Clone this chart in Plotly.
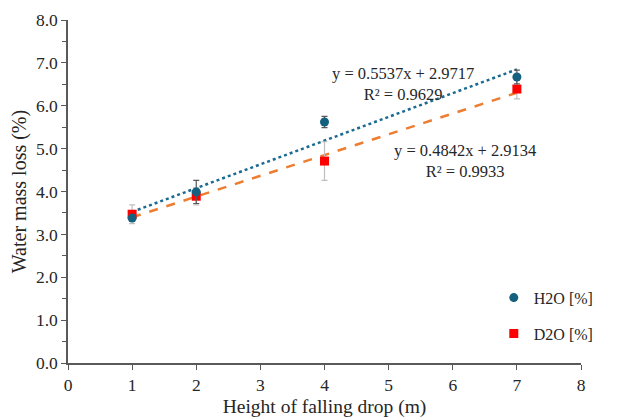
import plotly.graph_objects as go

heights = [1, 2, 4, 7]
h2o = [3.38, 3.99, 5.62, 6.67]
h2o_err = [0.08, 0.27, 0.13, 0.16]
d2o = [3.47, 3.89, 4.71, 6.39]
d2o_err = [0.22, 0.20, 0.45, 0.23]

h2o_fit = (0.5537, 2.9717, 0.9629)
d2o_fit = (0.4842, 2.9134, 0.9933)
fit_x = [1, 7]

FONT = "Liberation Serif, Times New Roman, serif"
TXT = "#262626"
AX = "#595959"

fig = go.Figure()

fig.add_trace(go.Scatter(
    x=fit_x, y=[h2o_fit[0] * v + h2o_fit[1] for v in fit_x], mode="lines",
    line=dict(color="#1a6a92", width=2.5, dash="dot"), showlegend=False, hoverinfo="skip"))
fig.add_trace(go.Scatter(
    x=fit_x, y=[d2o_fit[0] * v + d2o_fit[1] for v in fit_x], mode="lines",
    line=dict(color="#ed7d31", width=2.5, dash="dash"), showlegend=False, hoverinfo="skip"))

fig.add_trace(go.Scatter(
    x=heights, y=d2o, mode="markers", name="D2O [%]", legendgroup="d", legendrank=2,
    marker=dict(symbol="square", color="#ff0000", size=9),
    error_y=dict(type="data", array=d2o_err, color="#bfbfbf", thickness=1.2, width=3)))
fig.add_trace(go.Scatter(
    x=heights, y=h2o, mode="markers", name="H2O [%]", legendgroup="h", legendrank=1,
    marker=dict(symbol="circle", color="#15607f", size=9),
    error_y=dict(type="data", array=h2o_err, color="#595959", thickness=1.2, width=3)))

fig.add_annotation(
    xref="paper", yref="paper", x=(403 - 68) / 513, y=(363 - 84) / 343,
    xanchor="center", yanchor="middle",
    text=f"y = {h2o_fit[0]:.4f}x + {h2o_fit[1]:.4f}<br>R² = {h2o_fit[2]:.4f}",
    showarrow=False, align="center", font=dict(family=FONT, size=16.5, color=TXT))
fig.add_annotation(
    xref="paper", yref="paper", x=(465 - 68) / 513, y=(363 - 161) / 343,
    xanchor="center", yanchor="middle",
    text=f"y = {d2o_fit[0]:.4f}x + {d2o_fit[1]:.4f}<br>R² = {d2o_fit[2]:.4f}",
    showarrow=False, align="center", font=dict(family=FONT, size=16.5, color=TXT))

fig.update_layout(
    width=633, height=420,
    margin=dict(l=68, r=52, t=20, b=57, autoexpand=False),
    paper_bgcolor="white", plot_bgcolor="white",
    font=dict(family=FONT, size=16, color=TXT),
    showlegend=True,
    legend=dict(x=0.83, y=0.24, xanchor="left", yanchor="top",
                traceorder="grouped", bgcolor="rgba(0,0,0,0)",
                font=dict(family=FONT, size=16, color=TXT),
                tracegroupgap=12),
    xaxis=dict(range=[0, 8], tickvals=list(range(0, 9)), ticks="outside", ticklen=5,
               tickcolor=AX, showline=True, linecolor=AX, linewidth=1.5, showgrid=False,
               zeroline=False, automargin=False, tickfont=dict(family=FONT, size=17.5, color=TXT),
               title=dict(text="Height of falling drop (m)", font=dict(family=FONT, size=19.5, color=TXT), standoff=6)),
    yaxis=dict(range=[0, 8], tickvals=[i for i in range(0, 9)],
               ticktext=[f"{i:.1f}" for i in range(0, 9)],
               ticks="outside", ticklen=5, tickcolor=AX,
               minor=dict(dtick=0.5, ticks="outside", ticklen=4, tickcolor=AX),
               showline=True, linecolor=AX, linewidth=1.5, showgrid=False, zeroline=False,
               automargin=False, tickfont=dict(family=FONT, size=17.5, color=TXT),
               title=dict(text="Water mass loss (%)", font=dict(family=FONT, size=20, color=TXT), standoff=4)),
)

fig.write_html("out.html")
